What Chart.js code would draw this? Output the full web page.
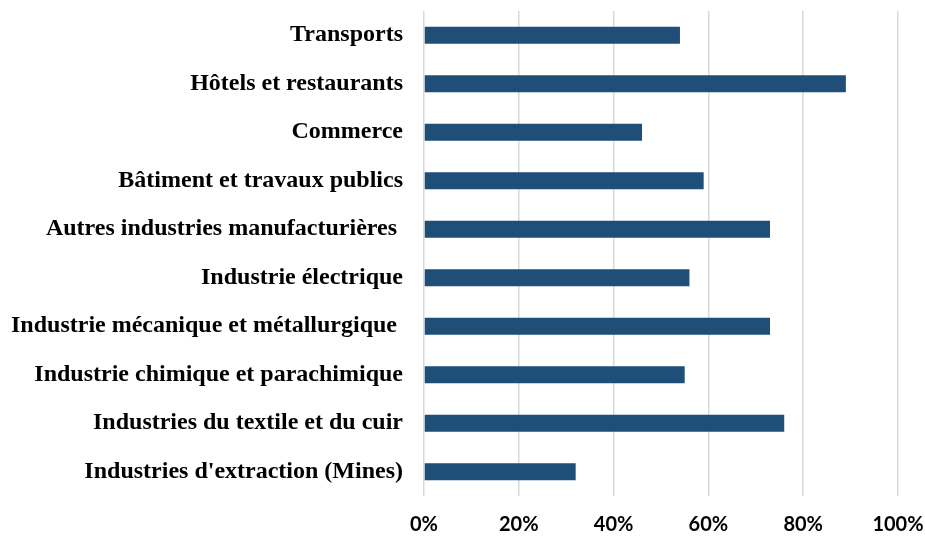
<!DOCTYPE html>
<html>
<head>
<meta charset="utf-8">
<script src="https://cdn.jsdelivr.net/npm/chart.js@4"></script>
<style>
  html, body { margin: 0; padding: 0; background: #fff; }
  #wrap { width: 925px; height: 538px; }
</style>
</head>
<body>
<div id="wrap"><canvas id="graph1"></canvas></div>
<script>
const sectors = [
    'Transports',
    'Hôtels et restaurants',
    'Commerce',
    'Bâtiment et travaux publics',
    'Autres industries manufacturières ',
    'Industrie électrique',
    'Industrie mécanique et métallurgique ',
    'Industrie chimique et parachimique',
    'Industries du textile et du cuir',
    "Industries d'extraction (Mines)"
];
const shares = [54, 89, 46, 59, 73, 56, 73, 55, 76, 32];
const xTicks = [0, 20, 40, 60, 80, 100];

const config = {
    type: 'bar',
    data: {
        labels: sectors,
        datasets: [
            {
                data: shares,
                backgroundColor: '#1f4e79',
                borderWidth: 0,
                barPercentage: 0.35,
                categoryPercentage: 1
            }
        ]
    },
    options: {
        indexAxis: 'y',
        responsive: true,
        maintainAspectRatio: false,
        animation: false,
        layout: {
            padding: { top: 11, right: 27, bottom: 0, left: 0 }
        },
        scales: {
            x: {
                min: xTicks[0],
                max: xTicks[xTicks.length - 1],
                afterBuildTicks: scale => {
                    scale.ticks = xTicks.map(v => ({ value: v }));
                },
                grid: {
                    color: '#d9d9d9',
                    lineWidth: 1.5,
                    drawTicks: false
                },
                border: { display: false },
                ticks: {
                    padding: 17,
                    color: '#000',
                    font: { family: 'Lato', weight: 'bold', size: 20 },
                    callback: v => v + '%'
                },
                afterFit: scale => {
                    scale.height = 42;
                    scale.paddingLeft = 0;
                    scale.paddingRight = 0;
                }
            },
            y: {
                grid: { display: false, drawTicks: false },
                border: { display: false },
                ticks: {
                    padding: 21,
                    color: '#000',
                    font: { family: 'Liberation Serif', weight: 'bold', size: 24 }
                },
                afterFit: scale => {
                    scale.width = 424;
                    scale.paddingTop = 0;
                    scale.paddingBottom = 0;
                }
            }
        },
        plugins: {
            legend: { display: false },
            tooltip: { enabled: false }
        }
    }
};

const myChart = new Chart(
    document.getElementById('graph1'),
    config
);
</script>
</body>
</html>
